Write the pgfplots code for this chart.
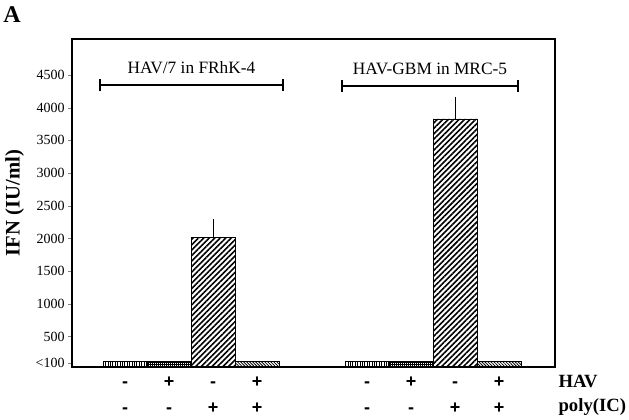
\documentclass[border=0pt]{standalone}
\usepackage{fontspec}
\setmainfont{Liberation Serif}
\newfontfamily\sansb{Liberation Sans}
\usepackage{pgfplots}
\pgfplotsset{compat=1.18}
\usetikzlibrary{patterns.meta}

\begin{document}
\begin{tikzpicture}
\useasboundingbox (-54pt,-39.75pt) rectangle (417.75pt,275.25pt);
\begin{axis}[
    at={(0,0)}, anchor=south west,
    scale only axis,
    width=362.25pt, height=246pt,
    xmin=-0.205, xmax=10.77,
    ymin=34, ymax=5050,
    axis line style={line width=1.1pt},
    ytick={100,500,1000,1500,2000,2500,3000,3500,4000,4500},
    yticklabels={{<100},500,1000,1500,2000,2500,3000,3500,4000,4500},
    yticklabel style={font=\fontsize{10.5}{12}\selectfont, xshift=1pt},
    ytick pos=left, ytick align=outside,
    major tick length=3pt,
    xtick={1,2,3,4,6.5,7.5,8.5,9.5},
    xticklabels={{\strut-\\\strut-},{\strut+\\\strut-},{\strut-\\\strut+},{\strut+\\\strut+},
                 {\strut-\\\strut-},{\strut+\\\strut-},{\strut-\\\strut+},{\strut+\\\strut+}},
    xticklabel style={font=\sansb\bfseries\fontsize{13.5}{19.5}\selectfont,
        align=center, anchor=north, inner ysep=1.3pt},
    xtick style={draw=none},
    bar width=1,
    clip=false,
]
% vertical lines
\addplot[ybar, bar shift=0pt, draw=black, line width=0.4pt,
    pattern={Lines[angle=90, distance=1.8pt, line width=0.6pt]}]
    coordinates {(1,115) (6.5,115)};
% fine grid
\addplot[ybar, bar shift=0pt, draw=black, line width=0.4pt,
    pattern={Hatch[angle=0, distance=1.5pt, line width=0.35pt]}]
    coordinates {(2,115) (7.5,115)};
% wide diagonal, poly(IC) only
\addplot[ybar, bar shift=0pt, draw=black, line width=0.4pt,
    pattern={Lines[angle=45, distance=2.9pt, line width=1.2pt]},
    error bars/.cd, y dir=plus, y explicit,
    error bar style={line width=0.6pt},
    error mark options={mark size=1.6pt, line width=0.6pt}]
    coordinates {(3,2015) +- (0,245) (8.5,3827) +- (0,306)};
% fine back-diagonal
\addplot[ybar, bar shift=0pt, draw=black, line width=0.4pt,
    pattern={Lines[angle=-45, distance=1.6pt, line width=0.6pt]}]
    coordinates {(4,115) (9.5,115)};

% group brackets
\draw[line width=1pt] (axis cs:0.43,4347) -- (axis cs:4.59,4347);
\draw[line width=1pt] (axis cs:0.43,4250) -- (axis cs:0.43,4440);
\draw[line width=1pt] (axis cs:4.59,4250) -- (axis cs:4.59,4440);
\node[font=\fontsize{13}{15}\selectfont] at (axis cs:2.51,4610) {HAV/7 in FRhK-4};
\draw[line width=1pt] (axis cs:5.93,4330) -- (axis cs:9.93,4330);
\draw[line width=1pt] (axis cs:5.93,4235) -- (axis cs:5.93,4425);
\draw[line width=1pt] (axis cs:9.93,4235) -- (axis cs:9.93,4425);
\node[font=\fontsize{13}{15}\selectfont] at (axis cs:7.93,4595) {HAV-GBM in MRC-5};

% row labels
\node[anchor=west, font=\bfseries\fontsize{14}{16}\selectfont, inner sep=0pt]
    at ([xshift=2.5pt, yshift=-10.5pt]rel axis cs:1,0) {HAV};
\node[anchor=west, font=\bfseries\fontsize{14}{16}\selectfont, inner sep=0pt]
    at ([xshift=2.5pt, yshift=-30pt]rel axis cs:1,0) {poly(IC)};

% y label and panel letter
\node[rotate=90, font=\bfseries\fontsize{15.5}{18}\selectfont]
    at ([xshift=-43pt]rel axis cs:0,0.5) {IFN (IU/ml)};
\node[font=\bfseries\fontsize{18}{20}\selectfont, inner sep=0pt]
    at ([xshift=-45pt, yshift=18.5pt]rel axis cs:0,1) {A};
\end{axis}
\end{tikzpicture}
\end{document}
